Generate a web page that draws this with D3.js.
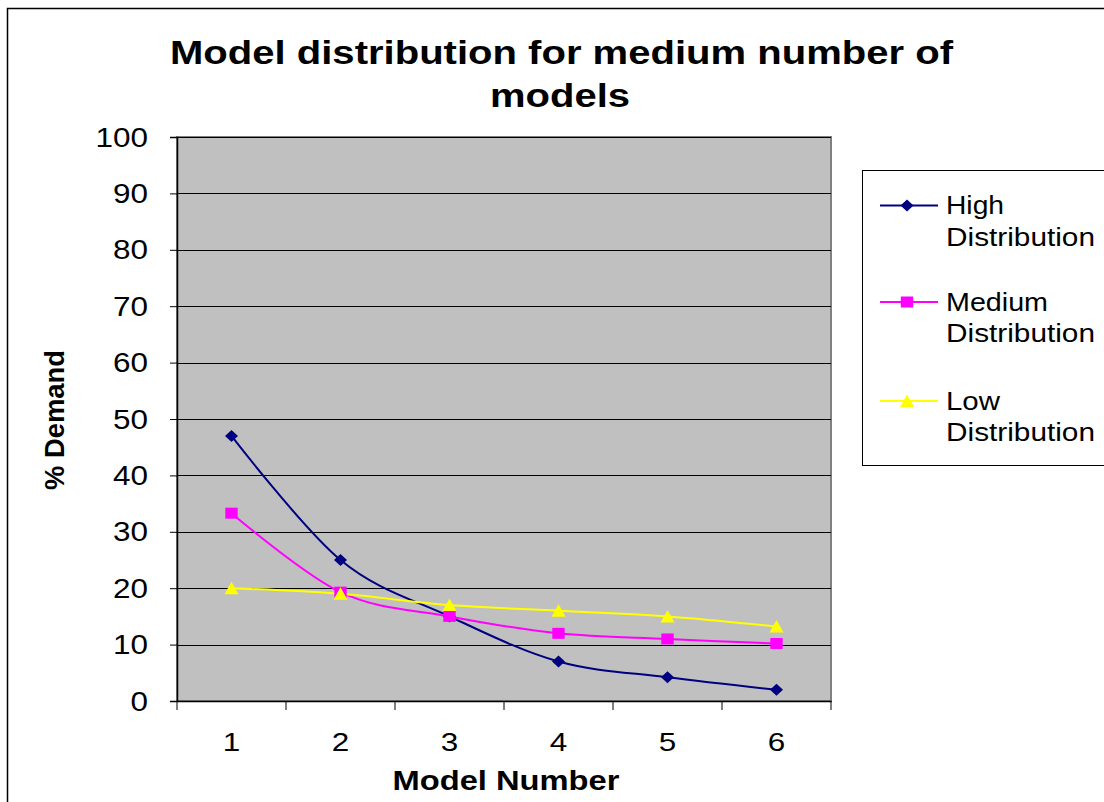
<!DOCTYPE html>
<html>
<head>
<meta charset="utf-8">
<script src="https://cdn.jsdelivr.net/npm/d3@7"></script>
<style>
  body { margin: 0; background: #fff; }
  text { font-family: "Liberation Sans", Arial, sans-serif; fill: #000; }
</style>
</head>
<body>
<div id="chart-container"></div>
<script>
var categories = [1, 2, 3, 4, 5, 6];
var highValues = [47, 25, 15, 7, 4.2, 2];
var mediumValues = [33.3, 19.3, 15, 12, 11, 10.2];
var lowValues = [20, 19, 17, 16, 15, 13.2];
var yTicks = [0, 10, 20, 30, 40, 50, 60, 70, 80, 90, 100];
var seriesNames = [['High', 'Distribution'], ['Medium', 'Distribution'], ['Low', 'Distribution']];

var svgWidth = 1104,
    svgHeight = 802,
    svg = d3.select('#chart-container').append('svg').attr('width', svgWidth).attr('height', svgHeight),
    margin = { top: 137, right: 273, bottom: 101, left: 177 },
    width = svgWidth - margin.left - margin.right,
    height = svgHeight - margin.bottom - margin.top;

// text drawn a bit wider than the font gives, like the original export
function label(parent, str, x, y, size, len, bold, anchor) {
  return parent.append('text')
    .attr('x', x).attr('y', y)
    .attr('textLength', len).attr('lengthAdjust', 'spacingAndGlyphs')
    .style('text-anchor', anchor || 'start')
    .style('font-size', size + 'px')
    .style('font-weight', bold ? 'bold' : 'normal')
    .text(str);
}

// marker shapes, sized like the excel ones
function marker(kind) {
  if (kind === 'diamond') return 'M0,-6L6.5,0L0,6L-6.5,0Z';
  if (kind === 'square') return 'M-6.2,-5.5H6.2V5.5H-6.2Z';
  return 'M0,-6.5L7,6L-7,6Z';
}

// outer chart border
svg.append('rect')
  .attr('x', 7.5).attr('y', 8.5)
  .attr('width', 1110).attr('height', 800)
  .attr('fill', 'none').attr('stroke', '#000').attr('stroke-width', 1.5);

// title
label(svg, 'Model distribution for medium number of', 561.5, 64, 33, 783, true, 'middle');
label(svg, 'models', 560, 107, 33, 140, true, 'middle');

var g = svg.append('g').attr('transform', 'translate(' + margin.left + ',' + margin.top + ')');

var x = d3.scaleBand().domain(categories).range([0, width]);
var y = d3.scaleLinear().domain([0, 100]).range([height, 0]);

g.append('rect')
  .attr('width', width).attr('height', height)
  .attr('fill', '#c0c0c0').attr('stroke', '#808080').attr('stroke-width', 2);

// gridlines
g.selectAll('.grid').data(yTicks.slice(1)).enter().append('line')
  .attr('x1', 0).attr('x2', width)
  .attr('y1', function(d) { return Math.round(y(d)) + 0.5; })
  .attr('y2', function(d) { return Math.round(y(d)) + 0.5; })
  .attr('stroke', '#000').attr('stroke-width', 1);

// y axis
var yAxis = g.append('g').attr('class', 'axis axis-y')
  .call(d3.axisLeft(y).tickValues(yTicks).tickSize(7));
yAxis.select('.domain').attr('stroke', '#000').attr('stroke-width', 1.5);
yAxis.selectAll('.tick line').attr('stroke', '#000');
yAxis.selectAll('.tick text')
  .attr('x', -29).attr('dy', null).attr('y', 9)
  .attr('textLength', function(d) { return String(d).length * 17.5; })
  .attr('lengthAdjust', 'spacingAndGlyphs')
  .style('font-size', '27px').attr('fill', '#000');

// x axis
var xAxis = g.append('g').attr('class', 'axis axis-x')
  .attr('transform', 'translate(0,' + height + ')')
  .call(d3.axisBottom(x).tickSize(0));
xAxis.select('.domain').attr('stroke', '#000').attr('stroke-width', 1.5);
xAxis.selectAll('.tick text')
  .attr('dy', null).attr('y', 50)
  .attr('textLength', 17.5).attr('lengthAdjust', 'spacingAndGlyphs')
  .style('font-size', '26.5px').attr('fill', '#000');
xAxis.selectAll('.sep').data(d3.range(categories.length + 1)).enter().append('line')
  .attr('x1', function(i) { return i * x.bandwidth(); })
  .attr('x2', function(i) { return i * x.bandwidth(); })
  .attr('y1', 0).attr('y2', 9)
  .attr('stroke', '#000');

// axis titles
label(svg, 'Model Number', 506, 790, 28, 227, true, 'middle');
label(svg.append('g').attr('transform', 'translate(64,420) rotate(-90)'), '% Demand', 0, 0, 28, 140, true, 'middle');

var series = [
  { values: highValues, color: '#000080', kind: 'diamond' },
  { values: mediumValues, color: '#ff00ff', kind: 'square' },
  { values: lowValues, color: '#ffff00', kind: 'triangle' }
];

var line = d3.line()
  .x(function(d, i) { return x(categories[i]) + x.bandwidth() / 2; })
  .y(function(d) { return y(d); })
  .curve(d3.curveCatmullRom.alpha(0));

series.forEach(function(s) {
  g.append('path')
    .datum(s.values)
    .attr('fill', 'none')
    .attr('stroke', s.color)
    .attr('stroke-width', 2)
    .attr('stroke-linejoin', 'round')
    .attr('d', line);
});

series.forEach(function(s) {
  g.selectAll(null).data(s.values).enter().append('path')
    .attr('transform', function(d, i) {
      return 'translate(' + (x(categories[i]) + x.bandwidth() / 2) + ',' + y(d) + ')';
    })
    .attr('d', marker(s.kind))
    .attr('fill', s.color);
});

// legend
var legend = svg.append('g');
legend.append('rect')
  .attr('x', 862.5).attr('y', 170.5)
  .attr('width', 260).attr('height', 295)
  .attr('fill', '#fff').attr('stroke', '#000');

var legendRows = [205.5, 302, 401];
var firstWidths = [58, 102, 54];
series.forEach(function(s, i) {
  var cy = legendRows[i];
  legend.append('line')
    .attr('x1', 880).attr('x2', 938)
    .attr('y1', cy).attr('y2', cy)
    .attr('stroke', s.color).attr('stroke-width', 2);
  legend.append('path')
    .attr('transform', 'translate(907,' + cy + ')')
    .attr('d', marker(s.kind))
    .attr('fill', s.color);
  label(legend, seriesNames[i][0], 946, cy + 8.5, 25.5, firstWidths[i]);
  label(legend, seriesNames[i][1], 946, cy + 40, 25.5, 149);
});
</script>
</body>
</html>
